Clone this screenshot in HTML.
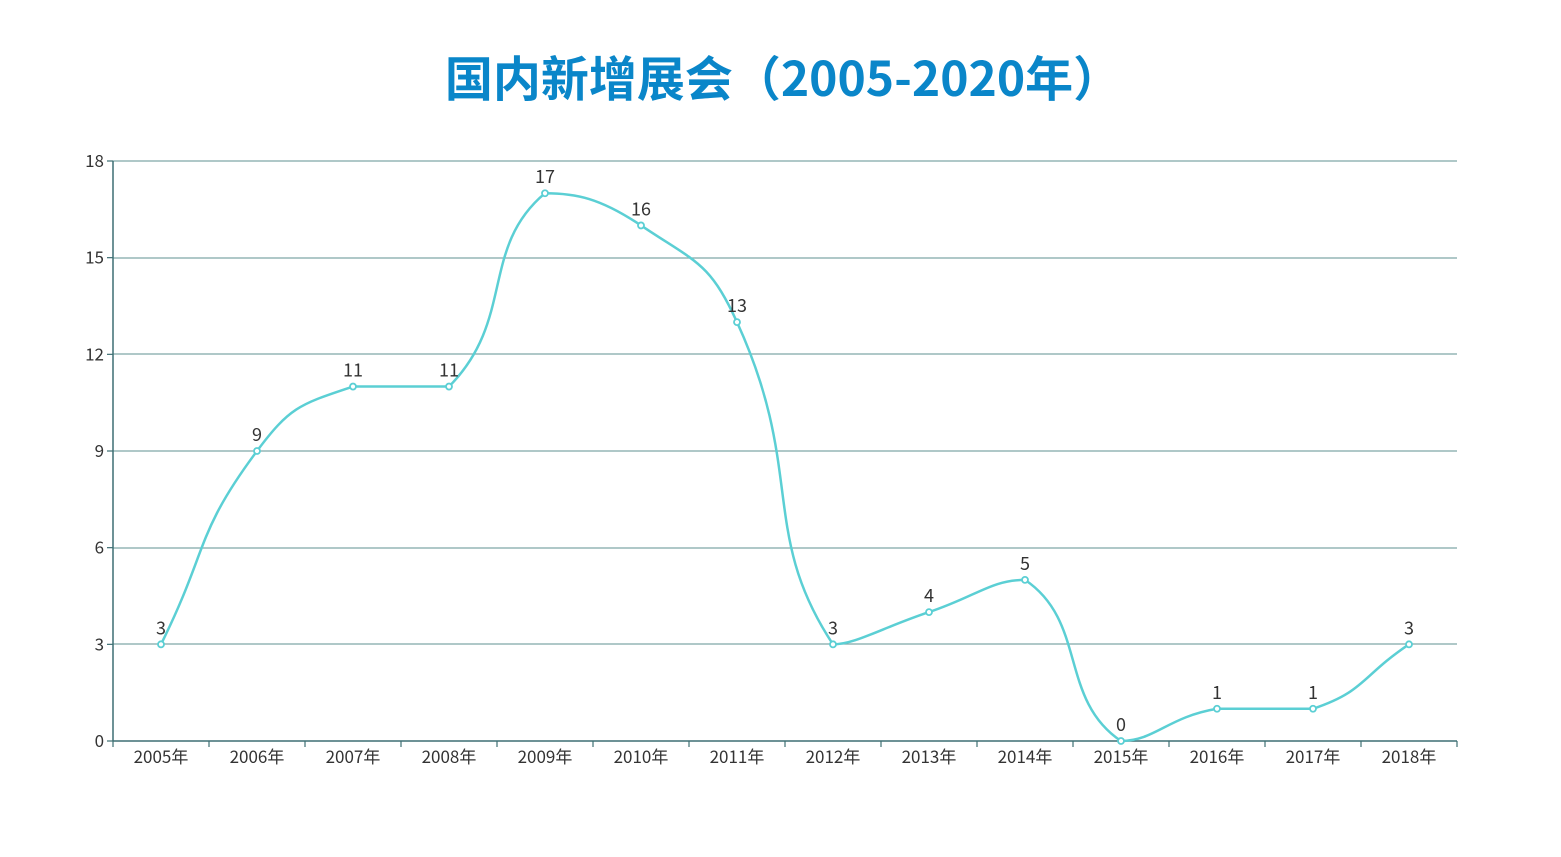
<!DOCTYPE html>
<html><head><meta charset="utf-8"><style>
html,body{margin:0;padding:0;background:#fff;}
svg{display:block;font-family:"Noto Sans CJK SC","Liberation Sans",sans-serif;}
</style></head><body>
<svg id="c" width="1561" height="857" viewBox="0 0 1561 857" xmlns="http://www.w3.org/2000/svg">
<text x="783" y="96" text-anchor="middle" font-size="48" font-weight="bold" fill="#0a86c9" font-family="'Noto Sans CJK SC',sans-serif">国内新增展会（2005-2020年）</text>
<g stroke="#7fa7a7" stroke-width="1.2">
<line x1="113" y1="161" x2="1457" y2="161"/>
<line x1="113" y1="258" x2="1457" y2="258"/>
<line x1="113" y1="354" x2="1457" y2="354"/>
<line x1="113" y1="451" x2="1457" y2="451"/>
<line x1="113" y1="548" x2="1457" y2="548"/>
<line x1="113" y1="644" x2="1457" y2="644"/>
</g>
<g stroke="#3d6f73" stroke-width="1.5">
<line x1="113" y1="161" x2="113" y2="741"/>
<line x1="113" y1="741" x2="1457" y2="741"/>
</g>
<g id="ticks" stroke="#3d6f73" stroke-width="1.2"></g>
<g id="ylab" font-size="17" fill="#333" text-anchor="end"></g>
<g id="xlab" font-size="17" fill="#333" text-anchor="middle"></g>
<path id="line" fill="none" stroke="#5bcfd4" stroke-width="2.5"/>
<g id="pts"></g>
<g id="vlab" font-size="18" fill="#333" text-anchor="middle"></g>
</svg>
<script>
var data=[3,9,11,11,17,16,13,3,4,5,0,1,1,3];
var ns="http://www.w3.org/2000/svg";
function el(t,a,p,txt){var e=document.createElementNS(ns,t);for(var k in a)e.setAttribute(k,a[k]);if(txt!=null)e.textContent=txt;document.getElementById(p).appendChild(e);}
function X(i){return 161+96*i;}function Y(v){return 741-v*580/18;}
for(var i=0;i<=14;i++)el('line',{x1:113+96*i,y1:741,x2:113+96*i,y2:747},'ticks');
for(var v=0;v<=18;v+=3){el('line',{x1:107,y1:Y(v),x2:113,y2:Y(v)},'ticks');el('text',{x:104,y:Y(v)+6},'ylab',String(v));}
for(var i=0;i<14;i++)el('text',{x:X(i),y:763},'xlab',(2005+i)+'年');
var P=data.map(function(v,i){return [X(i),Y(v)];});
var n=P.length,sm=0.5,fwd=[],bwd=[];
function cl(a,b,c){var lo=Math.min(b,c),hi=Math.max(b,c);return Math.max(lo,Math.min(hi,a));}
for(var i=0;i<n;i++){var pr=P[Math.max(i-1,0)],nx=P[Math.min(i+1,n-1)],p=P[i];
var vx=nx[0]-pr[0],vy=nx[1]-pr[1];
var l0=Math.hypot(p[0]-pr[0],p[1]-pr[1]),l1=Math.hypot(nx[0]-p[0],nx[1]-p[1]);var s=l0+l1||1;
fwd[i]=[p[0]+vx*sm*l1/s,p[1]+vy*sm*l1/s];bwd[i]=[p[0]-vx*sm*l0/s,p[1]-vy*sm*l0/s];}
var d='M'+P[0][0]+','+P[0][1];
for(var i=0;i<n-1;i++){var a=P[i],b=P[i+1];
var c1=[cl(fwd[i][0],a[0],b[0]),cl(fwd[i][1],a[1],b[1])];
var c2=[cl(bwd[i+1][0],a[0],b[0]),cl(bwd[i+1][1],a[1],b[1])];
d+=' C'+c1+' '+c2+' '+b;}
document.getElementById('line').setAttribute('d',d);
P.forEach(function(p,i){el('circle',{cx:p[0],cy:p[1],r:3,fill:'#fff',stroke:'#5bcfd4','stroke-width':1.8},'pts');el('text',{x:p[0],y:p[1]-10},'vlab',String(data[i]));});
</script>
</body></html>
